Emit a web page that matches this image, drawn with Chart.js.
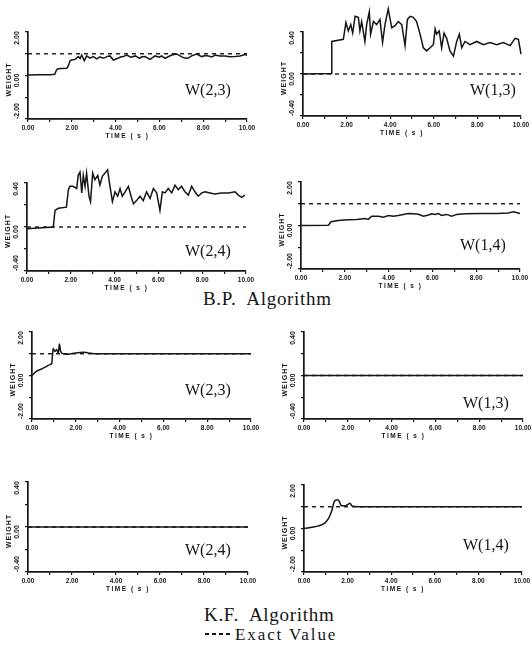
<!DOCTYPE html>
<html><head><meta charset="utf-8">
<script src="https://cdn.jsdelivr.net/npm/chart.js@4/dist/chart.umd.min.js"></script>
<style>
html,body{margin:0;padding:0;background:#fff;}
body{width:532px;height:649px;position:relative;overflow:hidden;}
canvas{position:absolute;}
.lbl{position:absolute;font-family:"Liberation Serif","DejaVu Serif",serif;color:#151515;font-size:16px;line-height:16px;white-space:nowrap;}
.ttl{position:absolute;font-family:"Liberation Serif","DejaVu Serif",serif;color:#151515;font-size:19px;line-height:19px;white-space:nowrap;letter-spacing:0.7px;}
.dash{position:absolute;height:2px;background:repeating-linear-gradient(90deg,#151515 0 4px,transparent 4px 7px);}
</style></head>
<body>
<div class="ttl" style="left:203px;top:289px;">B.P.&nbsp; Algorithm</div>
<div class="ttl" style="left:204px;top:605px;">K.F.&nbsp; Algorithm</div>
<div class="dash" style="left:205px;top:633px;width:26px;"></div>
<div class="ttl" style="left:235px;top:626px;font-size:17px;line-height:17px;letter-spacing:1.9px;">Exact Value</div>
<script>
// ---------------- data ----------------
const yTicksWide   = ['-2.00', '0.00', '2.00'];
const yTicksNarrow = ['-0.40', '0.00', '0.40'];
const xTitle = 'TIME ( s )';
const yTitle = 'WEIGHT';

// B.P. algorithm
const bp23_t = [0,0.5,1.0,1.22,1.3,1.35,1.5,1.77,1.84,1.92,2.0,2.15,2.3,2.38,2.45,2.57,2.68,2.83,2.98,3.14,3.29,3.4,3.5,3.62,3.74,3.9,4.1,4.22,4.35,4.5,4.7,4.9,5.1,5.2,5.34,5.57,5.8,6.0,6.1,6.26,6.4,6.56,6.79,7.0,7.15,7.3,7.47,7.7,7.93,8.1,8.23,8.4,8.54,8.75,9.0,9.2,9.45,9.68,9.9,10.0];
const bp23_w = [0.02,0.03,0.04,0.06,0.25,0.3,0.32,0.33,0.44,0.68,0.71,0.74,0.87,0.78,0.94,0.68,0.9,0.8,0.87,0.76,0.86,0.8,0.81,0.88,0.9,0.71,0.79,0.85,0.87,0.94,0.84,0.9,0.79,0.86,0.87,0.74,0.9,0.84,0.9,0.79,0.86,0.94,0.99,0.87,0.8,0.79,0.9,0.99,0.87,0.92,0.9,0.85,0.94,0.9,0.9,0.86,0.87,0.9,0.96,0.93];
const bp23_exact = 1.0;

const bp13_t = [0,1.3,1.32,1.85,1.97,2.08,2.19,2.28,2.39,2.54,2.61,2.69,2.84,2.92,3.04,3.1,3.23,3.38,3.53,3.65,3.76,3.91,4.07,4.22,4.37,4.53,4.68,4.79,4.91,5.06,5.21,5.37,5.52,5.67,5.83,5.98,6.06,6.13,6.25,6.36,6.47,6.59,6.74,6.9,7.05,7.17,7.28,7.43,7.66,7.97,8.27,8.58,8.88,9.19,9.5,9.73,9.88,10.0];
const bp13_w = [0,0.005,0.31,0.33,0.49,0.41,0.47,0.39,0.55,0.54,0.41,0.5,0.31,0.47,0.59,0.38,0.5,0.47,0.52,0.3,0.47,0.62,0.44,0.46,0.5,0.47,0.27,0.52,0.55,0.54,0.5,0.38,0.25,0.22,0.25,0.28,0.43,0.38,0.41,0.25,0.39,0.34,0.22,0.17,0.31,0.38,0.25,0.31,0.28,0.31,0.28,0.3,0.28,0.3,0.27,0.34,0.33,0.19];
const bp13_exact = 0.0;

const bp24_t = [0,1.2,1.28,1.43,1.8,1.89,1.96,2.1,2.27,2.34,2.42,2.5,2.57,2.65,2.72,2.83,2.9,3.0,3.1,3.23,3.33,3.44,3.56,3.68,3.79,3.9,4.02,4.14,4.25,4.35,4.48,4.63,4.75,4.86,5.0,5.16,5.31,5.46,5.62,5.77,5.92,6.07,6.18,6.3,6.45,6.61,6.76,6.91,7.06,7.21,7.37,7.52,7.67,7.82,7.98,8.13,8.36,8.58,8.89,9.2,9.5,9.65,9.8,9.95];
const bp24_w = [-0.015,0.0,0.15,0.17,0.18,0.34,0.37,0.37,0.35,0.47,0.5,0.31,0.47,0.37,0.49,0.28,0.23,0.49,0.43,0.47,0.38,0.46,0.49,0.52,0.37,0.23,0.32,0.28,0.35,0.28,0.32,0.37,0.28,0.21,0.24,0.28,0.24,0.32,0.26,0.35,0.31,0.15,0.32,0.31,0.35,0.31,0.38,0.34,0.37,0.32,0.29,0.37,0.32,0.28,0.31,0.32,0.31,0.30,0.31,0.31,0.32,0.29,0.27,0.29];
const bp24_exact = 0.0;

const bp14_t = [0,1.25,1.37,1.7,2.16,2.54,2.92,3.07,3.23,3.53,3.76,3.99,4.22,4.44,4.67,4.9,5.13,5.36,5.59,5.82,5.97,6.12,6.27,6.42,6.65,6.88,7.11,7.49,8.25,9.0,9.47,9.7,10.0];
const bp14_w = [0.0,0.01,0.17,0.23,0.26,0.28,0.32,0.28,0.43,0.43,0.38,0.46,0.43,0.46,0.51,0.55,0.54,0.52,0.43,0.48,0.54,0.51,0.55,0.46,0.51,0.43,0.51,0.54,0.55,0.55,0.58,0.63,0.55];
const bp14_exact = 1.0;

// K.F. algorithm
const kf23_t = [0,0.21,0.44,0.67,0.82,0.9,0.94,0.97,1.05,1.13,1.2,1.25,1.31,1.43,1.58,1.89,2.2,2.34,2.57,2.95,3.4,5.0,7.0,10.0];
const kf23_w = [0,0.2,0.3,0.42,0.5,0.56,1.0,1.24,1.1,1.2,1.02,1.45,1.1,1.0,0.98,1.02,1.06,1.07,1.04,1.0,1.0,1.0,1.0,1.0];
const kf23_exact = 1.0;

const kf13_t = [0,2,4,6,8,10];
const kf13_w = [0,0,0,0,0,0];
const kf13_exact = 0.0;

const kf24_t = [0,2,4,6,8,10];
const kf24_w = [0,0,0,0,0,0];
const kf24_exact = 0.0;

const kf14_t = [0,0.5,0.81,0.96,1.12,1.27,1.38,1.45,1.53,1.62,1.7,1.88,2.0,2.11,2.22,2.5,5,10];
const kf14_w = [0,0.08,0.17,0.26,0.45,0.8,1.22,1.3,1.32,1.25,1.06,1.04,1.1,1.16,1.02,1.0,1.0,1.0];
const kf14_exact = 1.0;

// ---------------- layout ----------------
const INK = '#161616';
const PADL = 30, PADT = 30, PADR = 14, XH = 22;

const panels = [
  {t:bp23_t, v:bp23_w, ex:bp23_exact, L:28, R:247, T:32, B:119, wide:true,  name:'W(2,3)', nx:185, ny:82},
  {t:bp13_t, v:bp13_w, ex:bp13_exact, L:303,R:521, T:32, B:116, wide:false, name:'W(1,3)', nx:470, ny:82},
  {t:bp24_t, v:bp24_w, ex:bp24_exact, L:27, R:246, T:183,B:271, wide:false, name:'W(2,4)', nx:185, ny:243},
  {t:bp14_t, v:bp14_w, ex:bp14_exact, L:301,R:520, T:182,B:269, wide:true,  name:'W(1,4)', nx:460, ny:237},
  {t:kf23_t, v:kf23_w, ex:kf23_exact, L:32, R:251, T:332,B:419, wide:true,  name:'W(2,3)', nx:185, ny:382, smooth:true},
  {t:kf13_t, v:kf13_w, ex:kf13_exact, L:304,R:523, T:332,B:419, wide:false, name:'W(1,3)', nx:463, ny:395},
  {t:kf24_t, v:kf24_w, ex:kf24_exact, L:28, R:248, T:482,B:572, wide:false, name:'W(2,4)', nx:185, ny:542},
  {t:kf14_t, v:kf14_w, ex:kf14_exact, L:304,R:522, T:485,B:572, wide:true,  name:'W(1,4)', nx:463, ny:537, smooth:true}
];

function axisLabels(p){
  return {
    id:'axisLabels',
    afterDraw(chart){
      const ctx = chart.ctx, ys = chart.scales.y, ca = chart.chartArea;
      const labs = p.wide ? yTicksWide : yTicksNarrow;
      const vals = [ys.min, 0, ys.max];
      const offs = [-8, 5, 6];
      ctx.save();
      ctx.fillStyle = INK;
      ctx.font = 'bold 7px "Liberation Sans", Arial, sans-serif';
      ctx.textAlign = 'center';
      ctx.textBaseline = 'middle';
      vals.forEach((val, i) => {
        const py = ys.getPixelForValue(val) + offs[i];
        ctx.save();
        ctx.translate(ca.left - 11, py);
        ctx.rotate(-Math.PI / 2);
        ctx.fillText(labs[i], 0, 0);
        ctx.restore();
      });
      ctx.save();
      ctx.letterSpacing = '1px';
      ctx.translate(ca.left - 19, (ca.top + ca.bottom) / 2 + 4);
      ctx.rotate(-Math.PI / 2);
      ctx.fillText(yTitle, 0, 0);
      ctx.restore();
      ctx.letterSpacing = '1.5px';
      ctx.font = 'bold 6.5px "Liberation Sans", Arial, sans-serif';
      ctx.fillText(xTitle, (ca.left + ca.right) / 2 - 10, ca.bottom + 17);
      ctx.restore();
    }
  };
}

panels.forEach(p => {
  const cv = document.createElement('canvas');
  const w = p.R - p.L + PADL + PADR, h = p.B - p.T + PADT + XH;
  cv.width = w; cv.height = h;
  cv.style.width = w + 'px'; cv.style.height = h + 'px';
  cv.style.left = (p.L - PADL) + 'px'; cv.style.top = (p.T - PADT) + 'px';
  document.body.appendChild(cv);

  const n = Math.min(p.t.length, p.v.length);
  const pts = [];
  for (let i = 0; i < n; i++) pts.push({x: p.t[i], y: p.v[i]});
  const ymax = p.wide ? 2 : 0.4;

  new Chart(cv, {
    type: 'line',
    data: {datasets: [
      {data: pts, borderColor: INK, borderWidth: 1.5, pointRadius: 0, fill: false,
       tension: p.smooth ? 0.4 : 0, cubicInterpolationMode: p.smooth ? 'monotone' : 'default', clip: false},
      {data: [{x: 0, y: p.ex}, {x: 10, y: p.ex}], borderColor: INK, borderWidth: 1.4,
       borderDash: [4, 4], pointRadius: 0, fill: false, clip: false}
    ]},
    options: {
      responsive: false, animation: false, devicePixelRatio: 1,
      layout: {padding: {left: 0, top: PADT, right: PADR, bottom: 0}},
      plugins: {legend: {display: false}, tooltip: {enabled: false}, title: {display: false}},
      scales: {
        x: {
          type: 'linear', min: 0, max: 10,
          border: {display: true, color: INK, width: 1.7},
          grid: {drawOnChartArea: false, drawTicks: true, tickLength: 3, color: INK, lineWidth: 1.2},
          ticks: {stepSize: 1, autoSkip: false, maxRotation: 0, minRotation: 0, padding: 2, color: INK,
                  font: {size: 6.5, weight: 'bold', family: '"Liberation Sans", Arial, sans-serif'},
                  callback: v => (Math.round(v) % 2 === 0 ? v.toFixed(2) : '')},
          afterFit(s){ s.height = XH; s.paddingLeft = 0; s.paddingRight = 0; }
        },
        y: {
          type: 'linear', min: -ymax, max: ymax,
          border: {display: true, color: INK, width: 1.7},
          grid: {drawOnChartArea: false, drawTicks: true, tickLength: 3, color: INK, lineWidth: 1.2},
          ticks: {stepSize: ymax / 2, autoSkip: false, color: INK, font: {size: 7}, callback: () => ''},
          afterFit(s){ s.width = PADL; s.paddingTop = 0; s.paddingBottom = 0; }
        }
      }
    },
    plugins: [axisLabels(p)]
  });

  const d = document.createElement('div');
  d.className = 'lbl';
  d.style.left = p.nx + 'px'; d.style.top = p.ny + 'px';
  d.textContent = p.name;
  document.body.appendChild(d);
});
</script>
</body></html>
